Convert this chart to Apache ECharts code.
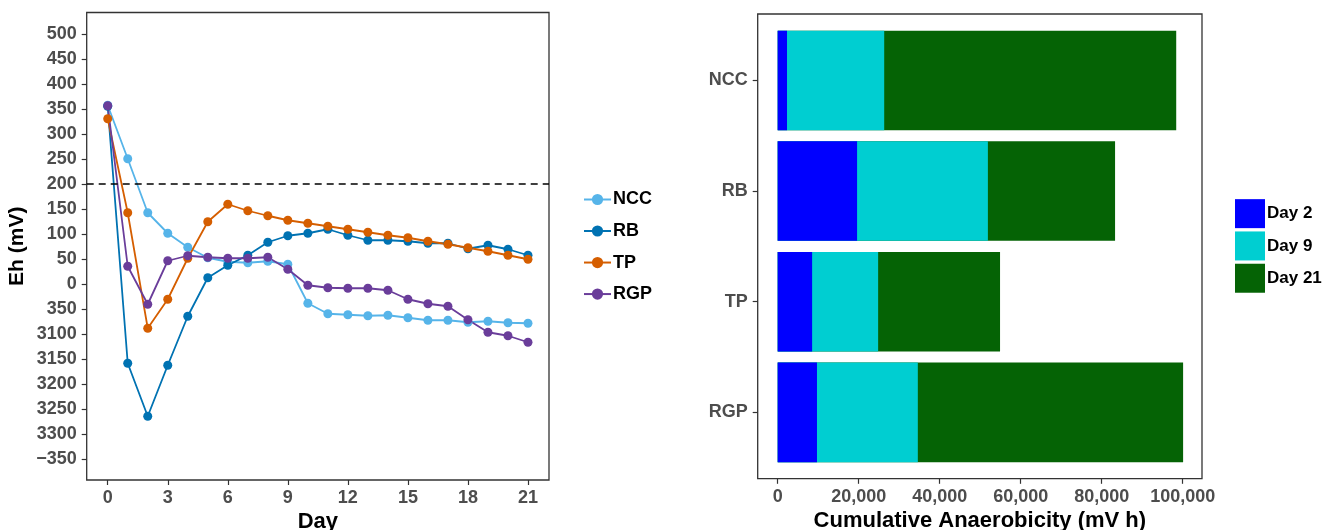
<style>
  body,
  html {
    overflow: hidden;
    width: 100%;
    height: 100%;
    margin: 0;
    padding: 0;
    background: #fff;
  }
  .chart-wrapper {
    position: relative;
    width: 1325px;
    height: 530px;
  }
</style>

<div id="chart-wrapper" class="chart-wrapper"></div>

<script src="https://cdn.jsdelivr.net/npm/echarts@6/dist/echarts.min.js"></script>

<script>
  // left panel: Eh over time
  const days = [0, 1, 2, 3, 4, 5, 6, 7, 8, 9, 10, 11, 12, 13, 14, 15, 16, 17, 18, 19, 20, 21];
  const ncc = [357, 250, 142, 101, 73, 52, 44, 42, 45, 39, -39, -60, -62, -64, -63, -68, -73, -73, -77, -75, -78, -79];
  const rb = [355, -159, -265, -163, -65, 12, 37, 57, 83, 96, 101, 109, 97, 87, 87, 85, 81, 81, 70, 77, 69, 57];
  const tp = [330, 142, -89, -31, 51, 124, 159, 146, 136, 127, 121, 115, 109, 103, 97, 92, 85, 79, 72, 65, 57, 49];
  const rgp = [356, 35, -41, 46, 56, 53, 51, 51, 53, 29, -3, -8, -9, -9, -13, -31, -40, -45, -72, -97, -104, -117];
  const dayTicks = [0, 3, 6, 9, 12, 15, 18, 21];
  const ehTicks = [-350, -300, -250, -200, -150, -100, -50, 0, 50, 100, 150, 200, 250, 300, 350, 400, 450, 500];
  const ehTickLabels = ["\u2212350", "3300", "3250", "3200", "3150", "3100", "350", "0",
    "50", "100", "150", "200", "250", "300", "350", "400", "450", "500"];
  const ehMin = -392.5;
  const ehMax = 542.5;

  // right panel: cumulative anaerobicity
  const treatments = ["NCC", "RB", "TP", "RGP"];
  const day2 = [2300, 19600, 8500, 9700];
  const day9 = [26300, 51900, 24800, 34600];
  const day21 = [98400, 83300, 54900, 100100];
  const anaTicks = [0, 20000, 40000, 60000, 80000, 100000];

  const lineColors = { NCC: "#56B4E9", RB: "#0072B2", TP: "#D55E00", RGP: "#6A3D9A" };
  const barColors = { "Day 2": "#0000FF", "Day 9": "#00CED1", "Day 21": "#056305" };

  const font = "'Liberation Sans', Arial, sans-serif";
  const tickLabel = { fontFamily: font, fontWeight: "bold", fontSize: 18, color: "#4D4D4D", hideOverlap: false };
  const titleText = { fontFamily: font, fontWeight: "bold", fontSize: 22, color: "#000" };
  const tickStyle = { show: true, length: 5, lineStyle: { color: "#333", width: 1.2 } };

  // padded with the axis ends so the min/max label check only drops these dummies
  const ehPadded = [ehMin, ...ehTicks, ehMax];

  const chartDom = document.getElementById("chart-wrapper");
  const chart = echarts.init(chartDom, null, { renderer: "canvas" });

  const lineSeries = (name, vals) => ({
    name: name,
    type: "line",
    xAxisIndex: 0,
    yAxisIndex: 0,
    data: days.map((d, i) => [d, vals[i]]),
    symbol: "circle",
    symbolSize: 9,
    lineStyle: { width: 1.8, color: lineColors[name] },
    itemStyle: { color: lineColors[name] },
  });

  const barSeries = (name, vals) => ({
    name: name,
    type: "bar",
    xAxisIndex: 1,
    yAxisIndex: 1,
    data: vals,
    barWidth: "90%",
    barGap: "-100%",
    itemStyle: { color: barColors[name] },
  });

  const ncc_series = lineSeries("NCC", ncc);
  ncc_series.markLine = {
    silent: true,
    symbol: "none",
    label: { show: false },
    lineStyle: { color: "#000", type: [7, 5], width: 1.6 },
    data: [{ yAxis: 200 }],
  };

  const option = {
    animation: false,
    backgroundColor: "#fff",
    grid: [
      {
        left: 86.7, top: 12.5, width: 462.3, height: 467.5,
        containLabel: false, outerBoundsMode: "none",
        show: true, borderColor: "#333", borderWidth: 1.3, backgroundColor: "transparent",
      },
      { left: 757.7, top: 25.1, width: 444.3, height: 442.6, containLabel: false, outerBoundsMode: "none" },
    ],
    xAxis: [
      {
        gridIndex: 0,
        type: "value",
        min: -1.05,
        max: 22.05,
        splitLine: { show: false },
        axisLine: { show: false, onZero: false },
        axisTick: Object.assign({ customValues: dayTicks }, tickStyle),
        axisLabel: Object.assign({ margin: 3, customValues: dayTicks }, tickLabel),
        name: "Day",
        nameLocation: "middle",
        nameGap: 23,
        nameMoveOverlap: false,
        nameTextStyle: titleText,
      },
      {
        gridIndex: 1,
        type: "value",
        min: -4938,
        max: 104765,
        offset: 11.1,
        splitLine: { show: false },
        axisLine: { show: false, onZero: false },
        axisTick: Object.assign({ customValues: anaTicks }, tickStyle),
        axisLabel: Object.assign({
          margin: 3,
          customValues: anaTicks,
          formatter: (v) => v.toLocaleString("en-US"),
        }, tickLabel),
        name: "Cumulative Anaerobicity (mV h)",
        nameLocation: "middle",
        nameGap: 23,
        nameMoveOverlap: false,
        nameTextStyle: titleText,
      },
    ],
    yAxis: [
      {
        gridIndex: 0,
        type: "value",
        min: ehMin,
        max: ehMax,
        splitLine: { show: false },
        axisLine: { show: false, onZero: false },
        axisTick: Object.assign({ customValues: ehPadded }, tickStyle),
        axisLabel: Object.assign({
          margin: 10,
          customValues: ehPadded,
          showMinLabel: false,
          showMaxLabel: false,
          formatter: (v) => {
            const i = ehTicks.indexOf(v);
            return i >= 0 ? ehTickLabels[i] : "";
          },
        }, tickLabel),
        name: "Eh (mV)",
        nameLocation: "middle",
        nameGap: 51,
        nameMoveOverlap: false,
        nameTextStyle: Object.assign({}, titleText, { fontSize: 21 }),
      },
      {
        gridIndex: 1,
        type: "category",
        inverse: true,
        data: treatments,
        axisLine: { show: false, onZero: false },
        axisTick: Object.assign({ alignWithLabel: true }, tickStyle),
        axisLabel: Object.assign({ margin: 10 }, tickLabel),
      },
    ],
    legend: [
      {
        data: ["NCC", "RB", "TP", "RGP"],
        orient: "vertical",
        left: 578,
        top: 179,
        itemWidth: 27,
        itemHeight: 14,
        itemGap: 0.5,
        textStyle: { fontFamily: font, fontWeight: "bold", fontSize: 18, color: "#000", padding: [0, 0, 0, -3] },
      },
      {
        data: ["Day 2", "Day 9", "Day 21"],
        orient: "vertical",
        left: 1230,
        top: 194,
        icon: "rect",
        itemWidth: 30,
        itemHeight: 29,
        itemGap: 3,
        textStyle: { fontFamily: font, fontWeight: "bold", fontSize: 17, color: "#000", padding: [0, 0, 0, -3] },
      },
    ],
    graphic: [
      {
        type: "rect",
        shape: { x: 757.7, y: 14, width: 444.3, height: 464.7 },
        style: { fill: "none", stroke: "#333", lineWidth: 1.3 },
        z: 100,
      },
    ],
    series: [
      ncc_series,
      lineSeries("RB", rb),
      lineSeries("TP", tp),
      lineSeries("RGP", rgp),
      barSeries("Day 21", day21),
      barSeries("Day 9", day9),
      barSeries("Day 2", day2),
    ],
  };

  chart.setOption(option);
</script>
